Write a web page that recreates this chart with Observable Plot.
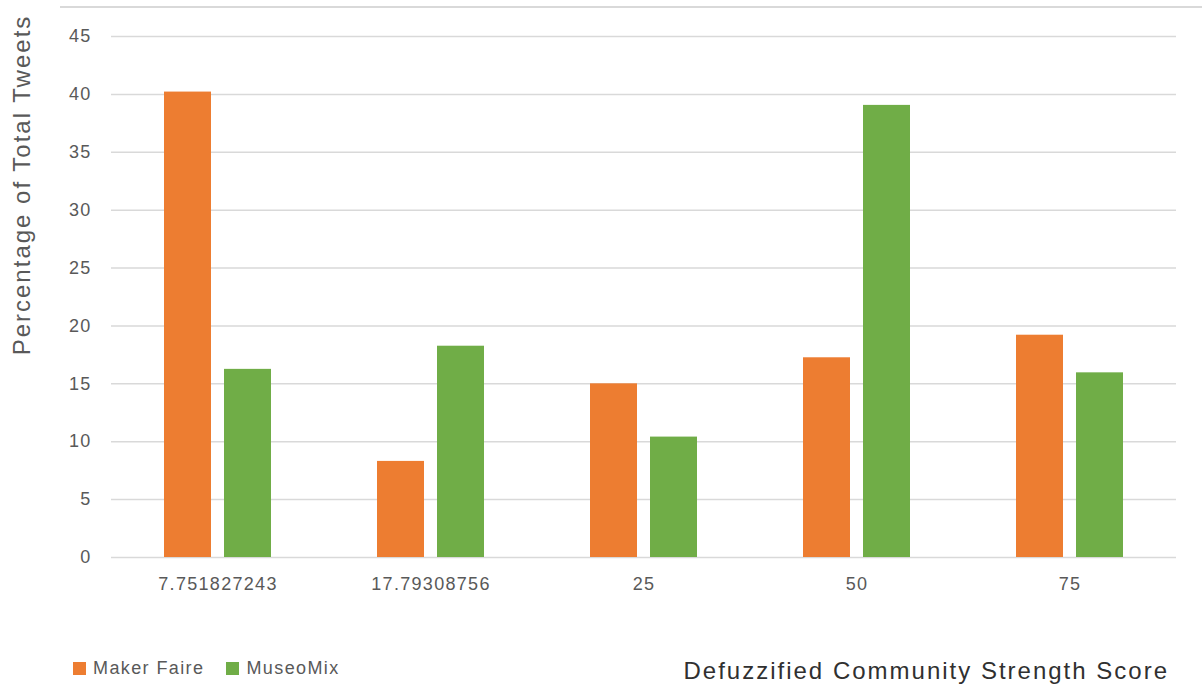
<!DOCTYPE html>
<html><head><meta charset="utf-8">
<script src="https://cdn.jsdelivr.net/npm/d3@7"></script>
<script src="https://cdn.jsdelivr.net/npm/@observablehq/plot@0.6"></script>
<style>
body{margin:0;background:#fff;font-family:"Liberation Sans",Arial,sans-serif;}
#wrap{position:relative;width:1202px;height:690px;overflow:hidden;background:#fff}
#topline{position:absolute;left:60px;right:0;top:6px;border-top:2px solid #d9d9d9}
#chart{position:absolute;left:0;top:0}
#ylabel{position:absolute;left:22px;top:185px;transform:translate(-50%,-50%) rotate(-90deg);white-space:nowrap;font-size:24px;letter-spacing:2px;color:#595959}
#legend{position:absolute;left:73px;top:658px;display:flex;align-items:center;font-size:18px;letter-spacing:1.4px;color:#595959}
#legend .sw{width:13px;height:13px;margin-right:7px}
#legend .item{display:flex;align-items:center;margin-right:22px}
#xlabel{position:absolute;right:33px;top:657px;font-size:24px;letter-spacing:2px;color:#303030;white-space:nowrap}
</style></head><body>
<div id="wrap">
 <div id="topline"></div>
 <div id="chart"></div>
 <div id="ylabel">Percentage of Total Tweets</div>
 <div id="legend"></div>
 <div id="xlabel">Defuzzified Community Strength Score</div>
</div>
<script>
const categories = ["7.751827243", "17.79308756", "25", "50", "75"];
const series = ["Maker Faire", "MuseoMix"];
const makerFaire = [40.2, 8.3, 15.0, 17.25, 19.2];
const museoMix = [16.25, 18.25, 10.4, 39.05, 15.95];
const yTicks = [0, 5, 10, 15, 20, 25, 30, 35, 40, 45];
const colors = ["#ED7D31", "#70AD47"];

const data = categories.flatMap((c, i) => [
  {cat: c, series: series[0], value: makerFaire[i]},
  {cat: c, series: series[1], value: museoMix[i]}
]);

const chart = Plot.plot({
  width: 1202, height: 640,
  marginTop: 36, marginBottom: 83, marginLeft: 109, marginRight: 25,
  style: {fontFamily: "'Liberation Sans', Arial, sans-serif", fontSize: "18px", letterSpacing: "1.3px", color: "#595959", background: "transparent"},
  fx: {domain: categories, padding: 0, label: null},
  x: {domain: series, paddingInner: 0.213, paddingOuter: 0.857, axis: null},
  y: {domain: [0, 45], label: null},
  color: {domain: series, range: colors},
  marks: [
    Plot.gridY(yTicks, {stroke: "#d9d9d9", strokeOpacity: 1, strokeWidth: 1.5}),
    Plot.barY(data, {fx: "cat", x: "series", y: "value", fill: "series"}),
    Plot.axisY(yTicks, {tickSize: 0, tickPadding: 20, label: null, fill: "#595959"}),
    Plot.axisFx({anchor: "bottom", tickSize: 0, tickPadding: 20, label: null, fill: "#595959"})
  ]
});
document.getElementById("chart").appendChild(chart);

const legend = document.getElementById("legend");
series.forEach((s, i) => {
  const item = document.createElement("div");
  item.className = "item";
  item.innerHTML = `<span class="sw" style="background:${colors[i]}"></span><span>${s}</span>`;
  legend.appendChild(item);
});
</script>
</body></html>
